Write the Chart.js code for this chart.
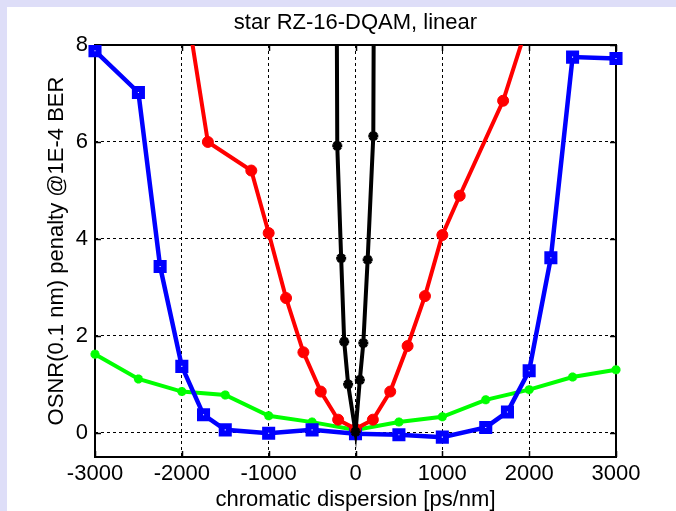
<!DOCTYPE html>
<html>
<head>
<meta charset="utf-8">
<script src="https://cdn.jsdelivr.net/npm/chart.js@4.4.1/dist/chart.umd.min.js"></script>
<style>
  html, body { margin: 0; padding: 0; background: #dedef8; }
  #wrap { position: absolute; left: 0; top: 0; width: 676px; height: 511px; }
</style>
</head>
<body>
<div id="wrap"><canvas id="c" width="676" height="511"></canvas></div>
<script>
// Chromatic dispersion [ps/nm] and OSNR penalty [dB] per curve
const cdBlack      = [-260, -210, -165, -130, -85, 0, 50, 90, 140, 205, 255];
const penaltyBlack = [30, 5.92, 3.6, 1.88, 1.0, 0.02, 1.09, 1.85, 3.57, 6.12, 30];

const cdRed      = [-2000, -1700, -1200, -1000, -800, -600, -400, -200, 0, 200, 400, 600, 800, 1000, 1200, 1700, 2000];
const penaltyRed = [9.4, 6.0, 5.41, 4.12, 2.78, 1.66, 0.85, 0.27, 0.08, 0.27, 0.85, 1.79, 2.82, 4.08, 4.89, 6.85, 8.53];

const cdBlue      = [-3000, -2500, -2250, -2000, -1750, -1500, -1000, -500, 0, 500, 1000, 1500, 1750, 2000, 2250, 2500, 3000];
const penaltyBlue = [7.88, 7.02, 3.43, 1.37, 0.37, 0.06, -0.01, 0.06, -0.02, -0.04, -0.09, 0.11, 0.43, 1.28, 3.61, 7.75, 7.72];

const cdGreen      = [-3000, -2500, -2000, -1500, -1000, -500, 0, 500, 1000, 1500, 2000, 2500, 3000];
const penaltyGreen = [1.62, 1.11, 0.85, 0.78, 0.35, 0.22, 0.06, 0.22, 0.33, 0.68, 0.89, 1.15, 1.3];

const xTicks = [-3000, -2000, -1000, 0, 1000, 2000, 3000];
const yTicks = [0, 2, 4, 6, 8];

const FONT = '"Liberation Sans", Arial, Helvetica, sans-serif';
const pts = (xs, ys) => xs.map((x, i) => ({ x, y: ys[i] }));
const plotClip = { left: 14, right: 14, top: 0, bottom: 14 };

// White figure panel behind the axes
const panel = {
  id: 'panel',
  beforeDraw(chart) {
    const ctx = chart.ctx;
    ctx.save();
    ctx.fillStyle = '#ffffff';
    ctx.fillRect(7, 7, chart.width - 7, chart.height - 7);
    ctx.restore();
  }
};

// Box frame with inward tick marks on all four sides
const frame = {
  id: 'frame',
  beforeDatasetsDraw(chart) {
    const { ctx, chartArea: a, scales: { x, y } } = chart;
    ctx.save();
    ctx.strokeStyle = '#000';
    ctx.lineWidth = 1.5;
    ctx.beginPath();
    xTicks.forEach(v => {
      const px = Math.round(x.getPixelForValue(v)) + 0.5;
      ctx.moveTo(px, a.bottom); ctx.lineTo(px, a.bottom - 6);
      ctx.moveTo(px, a.top); ctx.lineTo(px, a.top + 6);
    });
    yTicks.forEach(v => {
      const py = Math.round(y.getPixelForValue(v)) + 0.5;
      ctx.moveTo(a.left, py); ctx.lineTo(a.left + 6, py);
      ctx.moveTo(a.right, py); ctx.lineTo(a.right - 6, py);
    });
    ctx.stroke();
    ctx.lineWidth = 2;
    ctx.strokeRect(a.left, a.top, a.right - a.left, a.bottom - a.top);
    ctx.restore();
  }
};

new Chart(document.getElementById('c'), {
  type: 'line',
  data: {
    datasets: [
      {
        data: pts(cdBlack, penaltyBlack),
        borderColor: '#000000', backgroundColor: '#000000',
        borderWidth: 4, pointStyle: 'star', pointRadius: 5, pointBorderWidth: 3,
        pointBackgroundColor: '#000000', pointBorderColor: '#000000', clip: plotClip
      },
      {
        data: pts(cdRed, penaltyRed),
        borderColor: '#ff0000', backgroundColor: '#ff0000',
        borderWidth: 4, pointStyle: 'circle', pointRadius: 5.5, pointBorderWidth: 1,
        pointBackgroundColor: '#ff0000', pointBorderColor: '#ff0000', clip: plotClip
      },
      {
        data: pts(cdBlue, penaltyBlue),
        borderColor: '#0000ff', backgroundColor: '#0000ff',
        borderWidth: 4.5, pointStyle: 'rect', pointRadius: 5, pointBorderWidth: 6,
        pointBackgroundColor: '#ffffff', pointBorderColor: '#0000ff', clip: plotClip
      },
      {
        data: pts(cdGreen, penaltyGreen),
        borderColor: '#00ff00', backgroundColor: '#00ff00',
        borderWidth: 4, pointStyle: 'star', pointRadius: 4.5, pointBorderWidth: 3,
        pointBackgroundColor: '#00ff00', pointBorderColor: '#00ff00', clip: plotClip
      }
    ]
  },
  options: {
    responsive: false,
    animation: false,
    devicePixelRatio: 1,
    layout: { padding: { left: 0, right: 60, top: 0, bottom: 0 } },
    plugins: {
      legend: { display: false },
      tooltip: { enabled: false },
      title: {
        display: true,
        text: 'star RZ-16-DQAM, linear',
        color: '#000',
        fullSize: false,
        font: { family: FONT, size: 22, weight: 'normal', lineHeight: 1.2 },
        padding: { top: 10, bottom: 8.6 }
      }
    },
    elements: { line: { tension: 0, fill: false } },
    scales: {
      x: {
        type: 'linear',
        min: -3000, max: 3000,
        afterBuildTicks: s => { s.ticks = xTicks.map(v => ({ value: v })); },
        afterFit: s => { s.height = 54; },
        ticks: {
          color: '#000', padding: 4, maxRotation: 0,
          font: { family: FONT, size: 22 },
          callback: v => String(v)
        },
        grid: { color: '#000', lineWidth: 1, drawTicks: false },
        border: { display: false, dash: [3, 3] },
        title: {
          display: true, text: 'chromatic dispersion [ps/nm]', color: '#000',
          font: { family: FONT, size: 22, lineHeight: 1 }, padding: 0
        }
      },
      y: {
        type: 'linear',
        min: -0.5, max: 8,
        afterBuildTicks: s => { s.ticks = yTicks.map(v => ({ value: v })); },
        afterFit: s => { s.width = 95; },
        ticks: {
          color: '#000', padding: 7,
          font: { family: FONT, size: 22 },
          callback: v => String(v)
        },
        grid: { color: '#000', lineWidth: 1, drawTicks: false },
        border: { display: false, dash: [3, 3] },
        title: {
          display: true, text: 'OSNR(0.1 nm) penalty @1E-4 BER', color: '#000',
          font: { family: FONT, size: 22, lineHeight: 1.2 }, padding: { top: 44, bottom: 0 }
        }
      }
    }
  },
  plugins: [panel, frame]
});
</script>
</body>
</html>
